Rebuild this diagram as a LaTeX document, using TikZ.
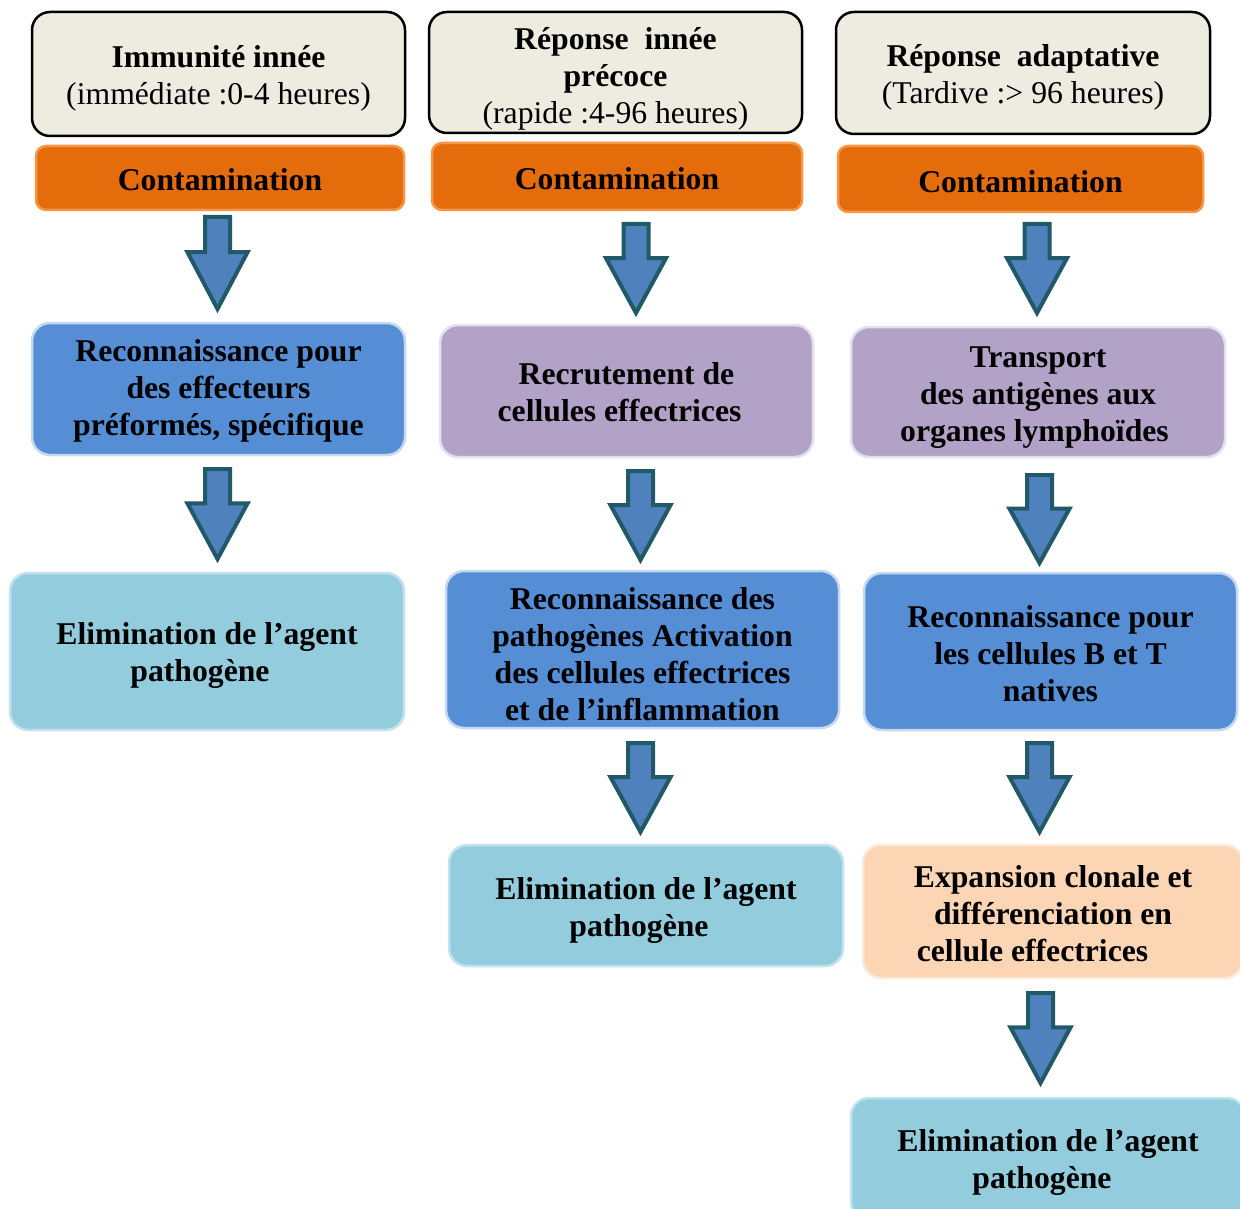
\documentclass[tikz,border=0pt]{standalone}
\usepackage{fontspec}
\setmainfont{Liberation Serif}
\definecolor{hdrF}{HTML}{EEECE1}
\definecolor{contF}{HTML}{E46C0A}
\definecolor{contB}{HTML}{F79646}
\definecolor{blueF}{HTML}{558ED5}
\definecolor{blueB}{HTML}{C6D9F1}
\definecolor{purpF}{HTML}{B3A2C7}
\definecolor{purpB}{HTML}{E5E0EC}
\definecolor{lbF}{HTML}{93CDDD}
\definecolor{lbB}{HTML}{C3E2EC}
\definecolor{peachF}{HTML}{FCD5B5}
\definecolor{peachB}{HTML}{FDE9D9}
\definecolor{arrF}{HTML}{4F81BD}
\definecolor{arrB}{HTML}{215968}
\tikzset{
  box/.style={rounded corners=18pt, inner sep=0pt, line width=2.5pt},
  txt/.style={align=center, inner sep=0pt,
    font=\fontsize{31.7}{37}\selectfont\bfseries, text=black},
  hdrbox/.style={box, draw=black, fill=hdrF},
  contbox/.style={box, draw=contB, fill=contF, rounded corners=10pt},
  bluebox/.style={box, draw=blueB, fill=blueF},
  purpbox/.style={box, draw=purpB, fill=purpF},
  lbbox/.style={box, draw=lbB, fill=lbF},
  peachbox/.style={box, draw=peachB, fill=peachF},
  blockarrow/.style={draw=arrB, fill=arrF, line width=4pt, line join=miter}
}
\newcommand\bigarrow[3]{%
  \pgfmathsetmacro\armsh{#2+0.38*(#3-#2)}%
  \filldraw[blockarrow] (#1-12.5,#2+2) -- (#1+12.5,#2+2) -- (#1+12.5,\armsh)
    -- (#1+30,\armsh) -- (#1,#3-4) -- (#1-30,\armsh) -- (#1-12.5,\armsh) -- cycle;}
\begin{document}
\begin{tikzpicture}[x=1pt,y=-1pt]
\useasboundingbox (0,0) rectangle (1240,1209);
\clip (0,0) rectangle (1240,1209);
% column 1
\node[hdrbox, minimum width=373pt, minimum height=124pt] (h1) at (218.5,74) {};
\node[txt] (h1t) at ([yshift=-4pt]h1.center)
  {Immunité innée\\{\mdseries (immédiate :0-4 heures)}};
\node[contbox, minimum width=368pt, minimum height=64pt] (c1) at (220,178) {};
\node[txt] (c1t) at ([yshift=-2pt]c1.center) {Contamination};
\node[bluebox, minimum width=373pt, minimum height=132pt] (r1) at (218.5,389) {};
\node[txt] (r1t) at ([yshift=-2pt]r1.center)
  {Reconnaissance pour\\des effecteurs\\préformés, spécifique};
\node[lbbox, minimum width=394pt, minimum height=157pt] (e1) at (207,651.5) {};
\node[txt] (e1t) at ([yshift=-4pt]e1.center)
  {Elimination de l’agent\\pathogène\hspace*{14pt}};
\bigarrow{217.5}{215}{313}
\bigarrow{217.5}{467}{563}
% column 2
\node[hdrbox, minimum width=373pt, minimum height=121pt] (h2) at (615.5,72.5) {};
\node[txt] (h2t) at ([yshift=-6pt]h2.center)
  {Réponse\ \ innée\\précoce\\{\mdseries (rapide :4-96 heures)}};
\node[contbox, minimum width=370pt, minimum height=67pt] (c2) at (617,176.5) {};
\node[txt] (c2t) at ([yshift=-2pt]c2.center) {Contamination};
\node[purpbox, minimum width=373pt, minimum height=132pt] (p2) at (626.5,391) {};
\node[txt] (p2t) at ([yshift=-1pt]p2.center)
  {Recrutement de\\cellules effectrices\hspace*{14pt}};
\node[bluebox, minimum width=393pt, minimum height=157pt] (b2) at (642.5,649.5) {};
\node[txt] (b2t) at ([yshift=-5pt]b2.center)
  {Reconnaissance des\\pathogènes Activation\\des cellules effectrices\\et de l’inflammation};
\node[lbbox, minimum width=394pt, minimum height=121pt] (e2) at (646,905.5) {};
\node[txt] (e2t) at ([yshift=-5pt]e2.center)
  {Elimination de l’agent\\pathogène\hspace*{14pt}};
\bigarrow{636}{222}{317}
\bigarrow{640.5}{469}{564}
\bigarrow{640.5}{741}{836}
% column 3
\node[hdrbox, minimum width=374pt, minimum height=122pt] (h3) at (1023,73) {};
\node[txt] (h3t) at ([yshift=-4pt]h3.center)
  {Réponse\ \ adaptative\\{\mdseries (Tardive :> 96 heures)}};
\node[contbox, minimum width=365pt, minimum height=66pt] (c3) at (1020.5,179) {};
\node[txt] (c3t) at ([yshift=-3pt]c3.center) {Contamination};
\node[purpbox, minimum width=374pt, minimum height=130pt] (p3) at (1038,392) {};
\node[txt] (p3t) at ([yshift=-6pt]p3.center)
  {Transport\\des antigènes aux\\organes lymphoïdes\hspace*{7pt}};
\node[bluebox, minimum width=373pt, minimum height=157pt] (b3) at (1050.5,651.5) {};
\node[txt] (b3t) at ([yshift=-2pt]b3.center)
  {Reconnaissance pour\\les cellules B et T\\natives};
\node[peachbox, minimum width=380pt, minimum height=133pt] (x3) at (1053,911.5) {};
\node[txt] (x3t) at ([yshift=-2.5pt]x3.center)
  {Expansion clonale et\\différenciation en\\cellule effectrices\hspace*{41pt}};
\node[lbbox, minimum width=394pt, minimum height=122pt] (e3) at (1048,1159) {};
\node[txt] (e3t) at ([yshift=-3.5pt]e3.center)
  {Elimination de l’agent\\pathogène\hspace*{12pt}};
\bigarrow{1037}{222}{317}
\bigarrow{1039.5}{473}{567}
\bigarrow{1039.5}{741}{836}
\bigarrow{1040.5}{991}{1087}
\end{tikzpicture}
\end{document}
